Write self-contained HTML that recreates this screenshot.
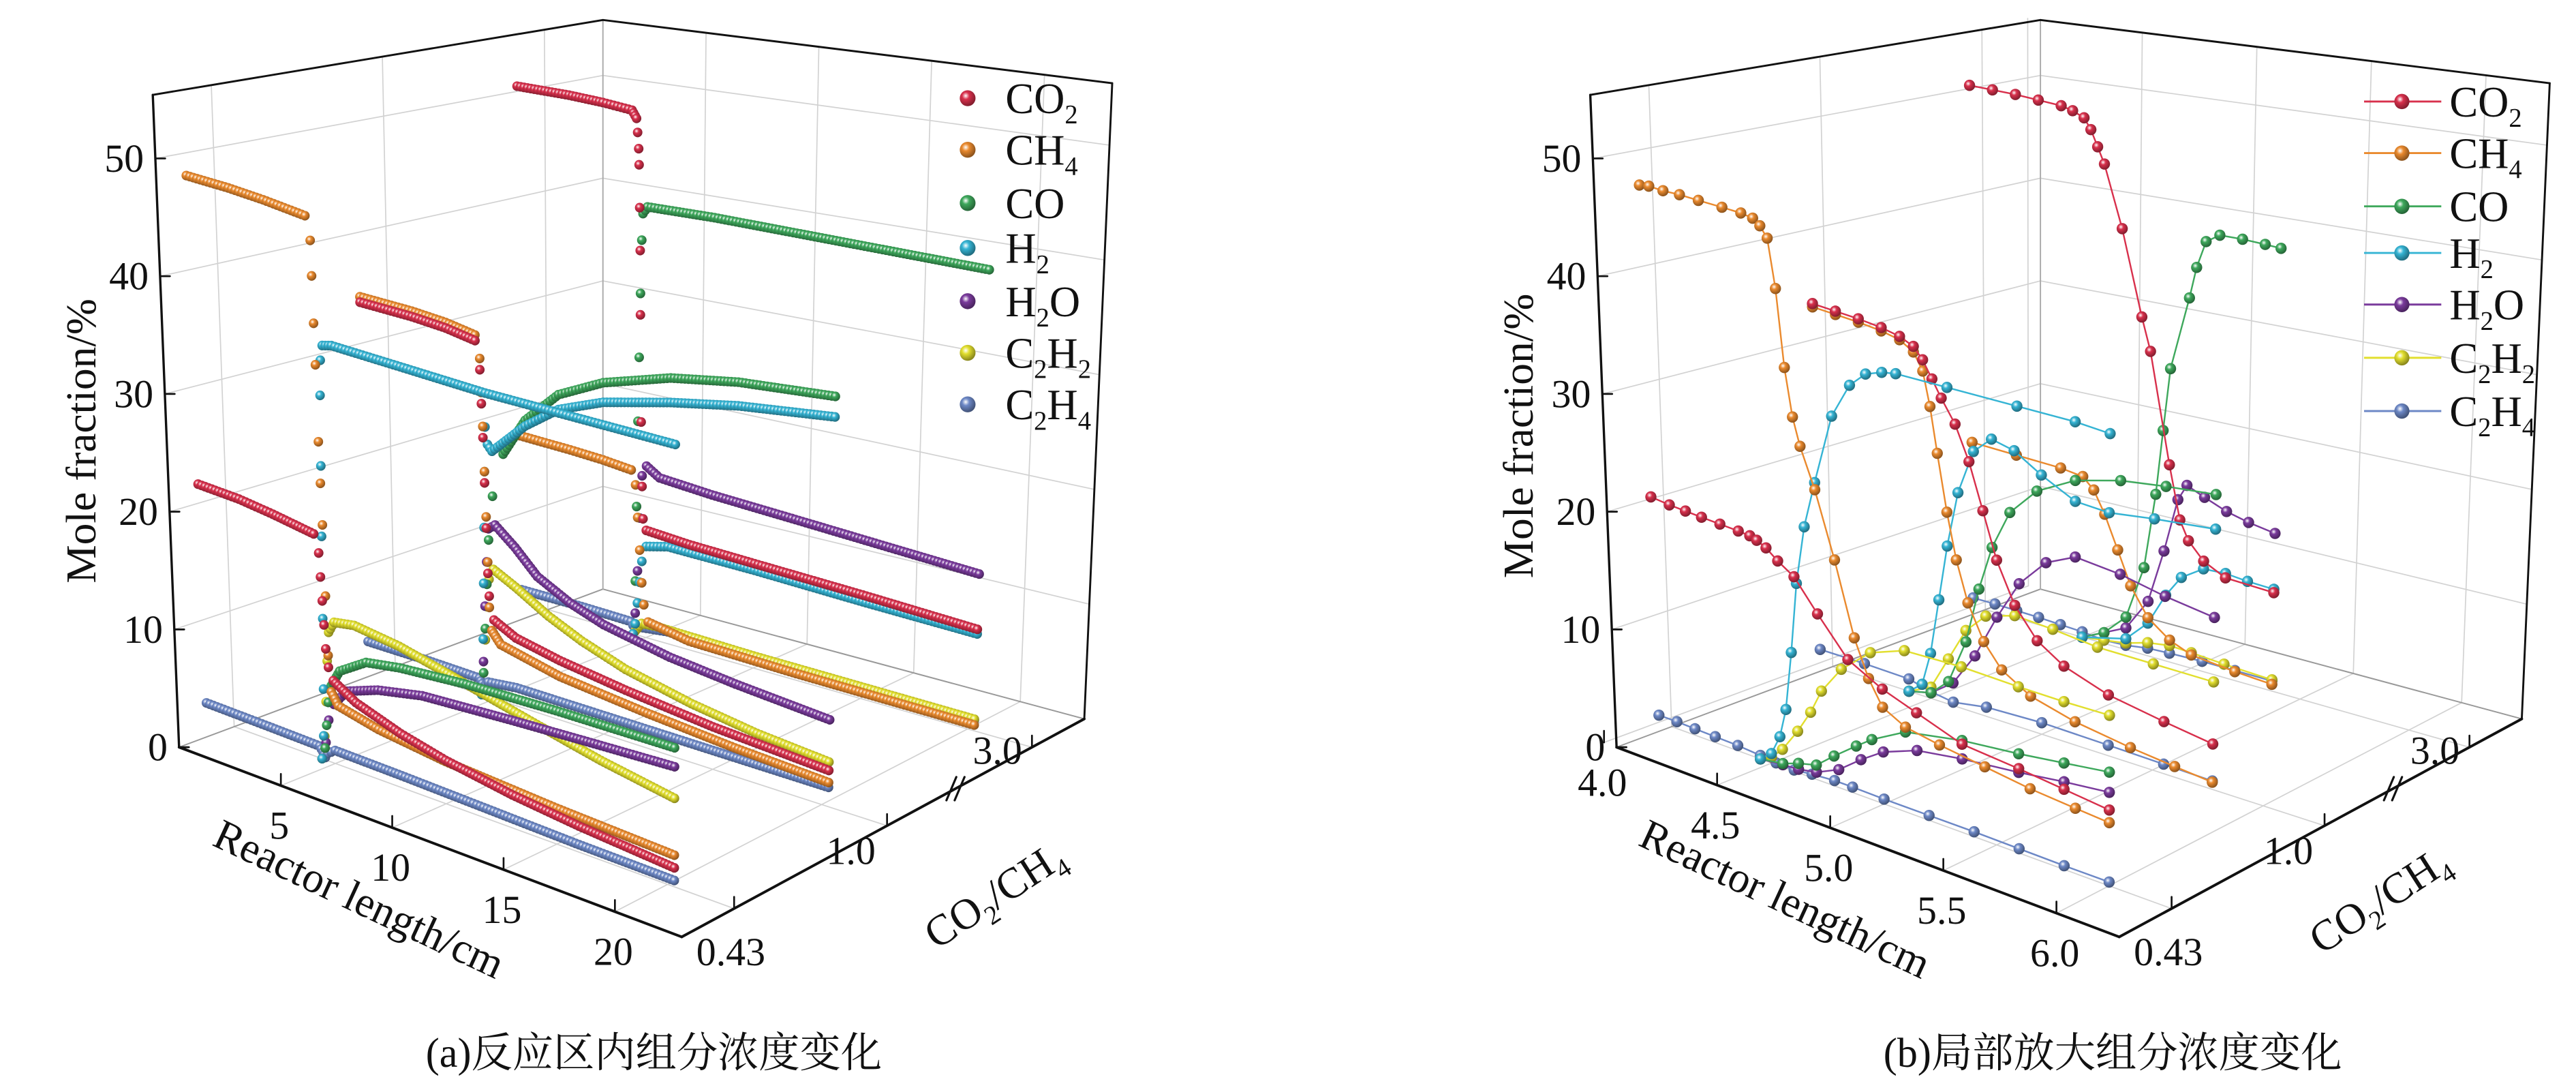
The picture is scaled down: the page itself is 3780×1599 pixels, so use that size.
<!DOCTYPE html>
<html><head><meta charset="utf-8"><title>Mole fraction 3D charts</title>
<style>
html,body{margin:0;padding:0;background:#fff;}
svg{display:block;}
text{font-family:"Liberation Serif","Noto Serif CJK SC",serif;fill:#111;}
</style></head>
<body>
<svg id="fig" xmlns="http://www.w3.org/2000/svg" width="3780" height="1599" viewBox="0 0 1568 655" preserveAspectRatio="none">
<defs id="defs"></defs>
<g id="panelA"></g>
<g id="panelB"></g>

<!-- titles -->
<text transform="translate(58,265) rotate(-90)" text-anchor="middle" font-size="26">Mole fraction/%</text>
<text transform="translate(933,262) rotate(-90)" text-anchor="middle" font-size="26">Mole fraction/%</text>
<text transform="translate(215,548) rotate(25)" text-anchor="middle" font-size="26">Reactor length/cm</text>
<text transform="translate(1083,548) rotate(25)" text-anchor="middle" font-size="26">Reactor length/cm</text>
<text transform="translate(610,545) rotate(-33)" text-anchor="middle" font-size="26">CO<tspan dy="6" font-size="16">2</tspan><tspan dy="-6">/CH</tspan><tspan dy="6" font-size="16">4</tspan></text>
<text transform="translate(1453,548) rotate(-33)" text-anchor="middle" font-size="26">CO<tspan dy="6" font-size="16">2</tspan><tspan dy="-6">/CH</tspan><tspan dy="6" font-size="16">4</tspan></text>
<text x="398" y="641" text-anchor="middle" font-size="25">(a)反应区内组分浓度变化</text>
<text x="1286" y="641" text-anchor="middle" font-size="25">(b)局部放大组分浓度变化</text>

<!-- legends -->
<g id="legendA" font-size="26">
 <text x="612" y="68">CO<tspan dy="6" font-size="16">2</tspan></text>
 <text x="612" y="99">CH<tspan dy="6" font-size="16">4</tspan></text>
 <text x="612" y="131">CO</text>
 <text x="612" y="158">H<tspan dy="6" font-size="16">2</tspan></text>
 <text x="612" y="190">H<tspan dy="6" font-size="16">2</tspan><tspan dy="-6">O</tspan></text>
 <text x="612" y="221">C<tspan dy="6" font-size="16">2</tspan><tspan dy="-6">H</tspan><tspan dy="6" font-size="16">2</tspan></text>
 <text x="612" y="252">C<tspan dy="6" font-size="16">2</tspan><tspan dy="-6">H</tspan><tspan dy="6" font-size="16">4</tspan></text>
</g>
<g id="legendB" font-size="26">
 <text x="1491" y="70">CO<tspan dy="6" font-size="16">2</tspan></text>
 <text x="1491" y="101">CH<tspan dy="6" font-size="16">4</tspan></text>
 <text x="1491" y="133">CO</text>
 <text x="1491" y="161">H<tspan dy="6" font-size="16">2</tspan></text>
 <text x="1491" y="192">H<tspan dy="6" font-size="16">2</tspan><tspan dy="-6">O</tspan></text>
 <text x="1491" y="224">C<tspan dy="6" font-size="16">2</tspan><tspan dy="-6">H</tspan><tspan dy="6" font-size="16">2</tspan></text>
 <text x="1491" y="256">C<tspan dy="6" font-size="16">2</tspan><tspan dy="-6">H</tspan><tspan dy="6" font-size="16">4</tspan></text>
</g>
</svg>

<script>
// ===== shared axis data =====
const speciesKeys = ['CO2','CH4','CO','H2','H2O','C2H2','C2H4'];
const rowLabels = ['0.43','1.0','3.0'];
const yTicks = [0,10,20,30,40,50];
const aXTicks = [5,10,15,20];
const aXTickLabels = ['5','10','15','20'];
const bXTicks = [4.0,4.5,5.0,5.5,6.0];
const bXTickLabels = ['4.0','4.5','5.0','5.5','6.0'];

// ===== panel (a) series: [reactor length cm, mole fraction %] =====
// row CO2/CH4 = 0.43
const aF_CO2 = [[-0.8,20.2],[1,20],[2.5,19.6],[4.3,19],[4.5,17.5],[4.55,15.5],[4.6,13.5],[4.65,11.5],[4.7,9.5],[4.8,8],[5,7],[6,5.8],[8,4.5],[10,3.6],[13,2.7],[16,2.1],[20.3,1.5]];
const aF_CH4 = [[-0.8,47],[1,46.8],[2.5,46.5],[4.3,46],[4.5,44],[4.52,41],[4.55,37],[4.58,33.5],[4.62,27],[4.66,23.5],[4.7,20],[4.75,14],[4.8,9],[4.9,6],[5.2,5],[7,4.2],[10,3.5],[15,2.9],[20.3,2.5]];
const aF_CO = [[4.4,0],[4.55,1],[4.65,3],[4.75,5],[4.9,6.5],[5.3,8],[6.5,9.5],[8,10],[11,10.5],[15,10.8],[20.3,11]];
const aF_H2 = [[4.4,0],[4.5,2],[4.55,6],[4.6,12],[4.65,19],[4.7,25],[4.75,31],[4.8,34],[4.9,35.3],[5.3,35.5],[8,35.3],[12,35],[16,35],[20.3,35]];
const aF_H2O = [[4.4,0],[4.6,1.5],[4.75,3.5],[5,5],[5.6,6.5],[7,7.5],[9,8.3],[13,8.8],[17,9.2],[20.3,9.5]];
const aF_C2H2 = [[4.4,0],[4.55,2],[4.65,5],[4.75,8.5],[4.85,11],[5.1,12],[6,12.3],[8,11.8],[11,10.5],[14,9.2],[17,8],[20.3,7]];
const aF_C2H4 = [[-0.8,1.2],[2,1.1],[4.3,1.0],[4.45,0.6],[4.55,0.2],[4.65,0.6],[5,1.1],[8,1.0],[12,0.8],[16,0.6],[20.3,0.5]];
// row CO2/CH4 = 1.0
const aM_CO2 = [[-0.8,32.5],[1.5,32.3],[3,32],[4.3,31.5],[4.5,29],[4.55,26],[4.6,23],[4.65,19],[4.7,15],[4.75,11],[4.8,9],[5,7],[6,6],[8,5.2],[11,4.4],[15,3.6],[20.3,3]];
const aM_CH4 = [[-0.8,33],[1.5,32.8],[3,32.5],[4.3,32],[4.5,30],[4.55,27],[4.6,24],[4.65,20],[4.7,16],[4.75,12],[4.8,8],[4.9,6],[5.3,5],[8,3.8],[12,3],[16,2.4],[20.3,2]];
const aM_CO = [[4.4,0],[4.5,2],[4.6,6],[4.7,10],[4.8,14],[5,18],[5.5,22],[6.5,25.5],[8,28.5],[10,30.5],[13,32.3],[16,33.3],[20.3,34]];
const aM_H2 = [[4.4,0],[4.5,5],[4.55,10],[4.6,15],[4.65,20],[4.7,24],[4.8,22.5],[5,22],[5.5,23],[6.5,25],[8,27.2],[10,28.8],[13,30.2],[16,31.3],[20.3,32.3]];
const aM_H2O = [[4.4,0],[4.5,3],[4.6,8],[4.7,12],[4.8,15],[5.1,15.5],[6,14],[7,12],[8.5,10.5],[10,9.5],[13,8.4],[16,7.8],[20.3,7.2]];
const aM_C2H2 = [[4.4,0],[4.5,2],[4.6,5],[4.7,8],[4.8,10.5],[5,11.5],[6,10.5],[7.5,8.8],[9,7.5],[11,6.2],[14,5],[17,4.2],[20.3,3.7]];
const aM_C2H4 = [[-0.8,1.5],[2,1.5],[4.3,1.4],[4.5,0.8],[4.7,1.3],[6,1.6],[10,1.6],[15,1.6],[20.3,1.6]];
// row CO2/CH4 = 3.0
const aK_CO2 = [[-0.8,49.6],[1.5,49.5],[3,49.3],[4.3,49],[4.5,48.3],[4.55,47],[4.6,45.5],[4.62,44],[4.65,40],[4.68,36],[4.7,30],[4.75,20],[4.8,14],[4.85,11],[5,10],[7,9.7],[10,9.5],[15,9.2],[20.3,8.8]];
const aK_CH4 = [[-0.8,16],[1.5,15.8],[3,15.6],[4.3,15.3],[4.5,14],[4.6,11],[4.7,8],[4.8,5],[4.9,3],[5.1,1.5],[7,0.8],[12,0.6],[20.3,0.5]];
const aK_CO = [[4.4,0],[4.5,5],[4.55,12],[4.6,20],[4.65,26],[4.7,32],[4.75,37],[4.8,39.5],[5,40.2],[8,40.3],[12,40.2],[16,40.1],[20.3,40]];
const aK_H2 = [[4.4,0],[4.5,1],[4.6,3],[4.7,5],[4.8,7],[5,8.5],[6,9],[10,8.9],[15,8.6],[20.3,8.4]];
const aK_H2O = [[4.4,0],[4.5,2],[4.6,6],[4.7,11],[4.8,15],[5,16],[5.6,15.2],[8,14.8],[12,14.4],[16,14],[20.3,13.6]];
const aK_C2H2 = [[4.4,0],[4.6,0.6],[4.8,1.2],[5.5,1.3],[10,1.1],[20.3,1.0]];
const aK_C2H4 = [[-0.8,1.2],[2,1.2],[4.3,1.1],[4.5,0.5],[4.7,0.8],[6,1.1],[12,1.0],[20.3,0.9]];

// ===== panel (b) series =====
const bF_CO2 = [[4.0,19.5],[4.08,19.3],[4.15,19.2],[4.22,19.1],[4.3,19],[4.38,18.9],[4.43,18.8],[4.46,18.6],[4.5,18.2],[4.55,17.4],[4.62,16.5],[4.72,14],[4.85,11],[5.0,9.5],[5.15,8.5],[5.35,7.2],[5.6,6.8],[5.8,6.4],[6.0,6]];
const bF_CH4 = [[4.0,46.5],[4.04,46.6],[4.1,46.5],[4.17,46.5],[4.25,46.4],[4.35,46.3],[4.43,46.2],[4.48,46],[4.51,45.5],[4.54,44.6],[4.57,40.5],[4.6,34],[4.63,30],[4.66,27.7],[4.72,24.4],[4.8,19],[4.88,13],[4.94,10],[5.0,8],[5.1,7],[5.25,6.5],[5.45,6],[5.65,5.5],[5.85,5.2],[6.0,5]];
const bF_CO = [[4.45,0],[4.55,0.3],[4.62,0.8],[4.7,1.2],[4.78,2.5],[4.88,4],[4.95,5],[5.1,6.6],[5.35,7.5],[5.6,8],[5.8,8.5],[6.0,9]];
const bF_H2 = [[4.45,0],[4.5,0.8],[4.54,2.5],[4.57,5],[4.6,10],[4.63,16],[4.67,21],[4.72,25],[4.8,31],[4.88,34],[4.95,35.3],[5.02,35.8],[5.08,36],[5.3,36],[5.6,36],[5.85,36],[6.0,35.8]];
const bF_H2O = [[4.45,0],[4.55,0.2],[4.62,0.3],[4.7,0.6],[4.8,1.5],[4.9,3],[5.0,4.3],[5.15,5.4],[5.35,6],[5.6,6.5],[5.8,7],[6.0,7.4]];
const bF_C2H2 = [[4.45,0],[4.5,0.5],[4.55,1.5],[4.62,3.5],[4.68,5.5],[4.73,7.6],[4.82,10],[4.95,12.2],[5.1,13.3],[5.35,13.5],[5.6,13.4],[5.8,13.4],[6.0,13.5]];
const bF_C2H4 = [[4.0,0.6],[4.08,0.6],[4.16,0.55],[4.25,0.5],[4.35,0.45],[4.45,0.3],[4.52,0.15],[4.6,0.1],[4.68,0.3],[4.78,0.45],[4.86,0.45],[5.0,0.4],[5.2,0.4],[5.4,0.4],[5.6,0.35],[5.8,0.3],[6.0,0.3]];

const bM_CO2 = [[4.0,32.7],[4.1,32.5],[4.2,32.3],[4.3,32],[4.38,31.6],[4.44,31],[4.48,30],[4.52,28.5],[4.56,27],[4.62,25],[4.68,22],[4.74,18],[4.8,14],[4.88,10.5],[4.98,8],[5.1,6.5],[5.3,5.2],[5.55,4.4],[5.77,3.8]];
const bM_CH4 = [[4.0,32.4],[4.1,32.2],[4.2,32],[4.3,31.7],[4.38,31.3],[4.44,30.5],[4.48,29],[4.51,26],[4.54,22],[4.58,17],[4.62,13],[4.67,9.5],[4.74,6.5],[4.82,4.5],[4.95,3],[5.15,2],[5.4,1.3],[5.6,0.9],[5.77,0.6]];
const bM_CO = [[4.4,0],[4.5,0.5],[4.58,2],[4.66,6],[4.72,11],[4.78,15],[4.86,18.5],[4.98,21],[5.15,22.8],[5.35,23.8],[5.55,24.3],[5.77,24.7]];
const bM_H2 = [[4.4,0],[4.46,1],[4.5,4],[4.54,9],[4.58,14],[4.63,19],[4.7,23],[4.78,24.5],[4.88,24],[5.0,22.5],[5.15,21],[5.3,20.8],[5.5,21.3],[5.77,21.8]];
const bM_H2O = [[4.4,0],[4.5,0.5],[4.6,2],[4.7,5],[4.8,9],[4.9,12.5],[5.02,15],[5.15,16.2],[5.35,15.8],[5.55,15],[5.77,14.4]];
const bM_C2H2 = [[4.4,0],[4.5,1],[4.58,4],[4.66,7],[4.75,8.8],[4.88,9.6],[5.05,9.4],[5.25,9],[5.5,9],[5.77,9]];
const bM_C2H4 = [[4.0,1.2],[4.2,1.2],[4.4,1.1],[4.5,0.6],[4.6,0.3],[4.75,0.8],[5.0,1.0],[5.3,0.9],[5.55,0.8],[5.77,0.7]];

const bK_CO2 = [[4.0,49.9],[4.1,49.8],[4.2,49.7],[4.3,49.5],[4.4,49.3],[4.45,49],[4.5,48.5],[4.53,47.5],[4.56,46],[4.59,44.5],[4.67,38.8],[4.76,31],[4.8,28],[4.89,18],[4.94,13.2],[4.98,11.5],[5.05,10],[5.15,9],[5.37,8.8]];
const bK_CH4 = [[4.0,15.7],[4.2,15.5],[4.4,15.3],[4.5,15],[4.55,14],[4.6,12],[4.66,9],[4.72,6],[4.8,3.5],[4.9,2],[5.0,1.2],[5.2,0.8],[5.37,0.6]];
const bK_CO = [[4.5,0],[4.6,1],[4.7,3],[4.78,8],[4.83,15],[4.86,21],[4.89,26.8],[4.97,33.6],[5.0,36.5],[5.04,39],[5.1,39.8],[5.2,39.8],[5.3,39.7],[5.37,39.6]];
const bK_H2 = [[4.5,0],[4.7,1],[4.8,3],[4.88,6],[4.95,8],[5.05,9.3],[5.15,9.4],[5.25,9.2],[5.37,9.1]];
const bK_H2O = [[4.5,0],[4.7,2],[4.8,5],[4.87,10],[4.93,15],[4.97,16.5],[5.05,15.8],[5.15,15],[5.25,14.5],[5.37,14.1]];
const bK_C2H2 = [[4.5,0],[4.6,0.3],[4.7,0.6],[4.8,1.2],[4.9,1.5],[5.0,1.4],[5.15,1.2],[5.37,1.0]];
const bK_C2H4 = [[4.0,0.8],[4.1,0.8],[4.2,0.75],[4.3,0.7],[4.4,0.6],[4.5,0.5],[4.6,0.3],[4.7,0.4],[4.8,0.7],[4.9,0.8],[5.05,0.9],[5.2,0.9],[5.37,0.9]];

// ===== styling / geometry (not data) =====
const COLORS = {CO2:'#d8304c',CH4:'#ea8a2e',CO:'#3ea85c',H2:'#35b4d4',H2O:'#7a3b9c',C2H2:'#e2df2e',C2H4:'#6d88c6'};
const ROW_W = [0.13,0.51,0.87];
const VMAX = 55.4;
const NS = 'http://www.w3.org/2000/svg';

function geom(off, xToU){
  return {A:[109+off,449],B:[415+off,563],C:[660+off,432],D:[367+off,354],
          vA:[-16,-392],vB:[1,-432],vC:[17,-382],vD:[0,-342], xToU:xToU};
}
const gA = geom(0, x => -0.019 + 0.0443*x);
const gB = geom(875, x => -0.025 + 0.45*(x-4));

function P(g,u,w,v){
  const bl=(a,b,c,d,i)=>(1-w)*(1-u)*a[i]+(1-w)*u*b[i]+w*u*c[i]+w*(1-u)*d[i];
  return [bl(g.A,g.B,g.C,g.D,0)+bl(g.vA,g.vB,g.vC,g.vD,0)*v/VMAX,
          bl(g.A,g.B,g.C,g.D,1)+bl(g.vA,g.vB,g.vC,g.vD,1)*v/VMAX];
}
function el(tag, attrs, parent){
  const e=document.createElementNS(NS,tag);
  for(const k in attrs) e.setAttribute(k,attrs[k]);
  parent.appendChild(e);
  return e;
}
const defs=document.getElementById('defs');
function shade(hex,f){const n=parseInt(hex.slice(1),16);let r=n>>16,g=(n>>8)&255,b=n&255;
  r=Math.round(r*f);g=Math.round(g*f);b=Math.round(b*f);return 'rgb('+r+','+g+','+b+')';}
speciesKeys.forEach(k=>{
  const rg=el('radialGradient',{id:'bg-'+k,cx:'0.38',cy:'0.35',r:'0.65'},defs);
  el('stop',{offset:'0','stop-color':'#ffffff'},rg);
  el('stop',{offset:'0.35','stop-color':COLORS[k]},rg);
  el('stop',{offset:'1','stop-color':shade(COLORS[k],0.6)},rg);
});

function line(parent,p,q,stroke,sw,name){
  const l=el('line',{x1:p[0],y1:p[1],x2:q[0],y2:q[1],stroke:stroke,'stroke-width':sw,'stroke-linecap':'round'},parent);
  
  
  return l;
}

function drawAxes(g, parent, xTicks, xLabels, prefix){
  const grid='#d2d2d2', ax='#111';
  const xu=xTicks.map(t=>g.xToU(t));
  xu.forEach(u=>line(parent,P(g,u,0,0),P(g,u,1,0),grid,0.7,prefix+'-floor-gridline'));
  ROW_W.forEach(w=>line(parent,P(g,0,w,0),P(g,1,w,0),grid,0.7,prefix+'-floor-gridline'));
  yTicks.slice(1).forEach(v=>{
    line(parent,P(g,0,0,v),P(g,0,1,v),grid,0.7,prefix+'-wall-gridline');
    line(parent,P(g,0,1,v),P(g,1,1,v),grid,0.7,prefix+'-wall-gridline');
  });
  ROW_W.forEach(w=>line(parent,P(g,0,w,0),P(g,0,w,VMAX),grid,0.7,prefix+'-wall-gridline'));
  xu.forEach(u=>line(parent,P(g,u,1,0),P(g,u,1,VMAX),grid,0.7,prefix+'-wall-gridline'));
  line(parent,P(g,0,0,0),P(g,0,1,0),'#999',0.8,prefix+'-floor-edge');
  line(parent,P(g,0,1,0),P(g,1,1,0),'#999',0.8,prefix+'-floor-edge');
  line(parent,P(g,0,1,0),P(g,0,1,VMAX),'#aaa',0.8,prefix+'-back-edge');
  line(parent,P(g,0,0,0),P(g,0,0,VMAX),ax,1.4,prefix+'-y-axis-line');
  line(parent,P(g,0,0,VMAX),P(g,0,1,VMAX),ax,1.2,prefix+'-top-edge');
  line(parent,P(g,0,1,VMAX),P(g,1,1,VMAX),ax,1.2,prefix+'-top-edge');
  line(parent,P(g,1,1,0),P(g,1,1,VMAX),ax,1.2,prefix+'-right-edge');
  line(parent,P(g,0,0,0),P(g,1,0,0),ax,1.6,prefix+'-x-axis-line');
  line(parent,P(g,1,0,0),P(g,1,1,0),ax,1.6,prefix+'-depth-axis-line');
  yTicks.forEach(v=>{
    const p=P(g,0,0,v);
    line(parent,p,[p[0]+6,p[1]],ax,1.1,prefix+'-y-tick');
    const t=el('text',{x:p[0]-7,y:p[1]+8,'text-anchor':'end','font-size':24},parent);
    t.textContent=String(v);
    
    
  });
  xTicks.forEach((xv,i)=>{
    const p=P(g,g.xToU(xv),0,0);
    line(parent,p,[p[0],p[1]-7],ax,1.1,prefix+'-x-tick');
    const t=el('text',{x:p[0]-1,y:p[1]+32,'text-anchor':'middle','font-size':24},parent);
    t.textContent=xLabels[i];
    
    
  });
  const offs=[[-2,34],[-22,23],[-21,10]];
  ROW_W.forEach((w,i)=>{
    const p=P(g,1,w,0);
    line(parent,p,[p[0],p[1]-7],ax,1.1,prefix+'-depth-tick');
    const t=el('text',{x:p[0]+offs[i][0],y:p[1]+offs[i][1],'text-anchor':'middle','font-size':24},parent);
    t.textContent=rowLabels[i];
    
    
  });
  const bp=P(g,1,0.68,0);
  [-2.5,2.5].forEach(d=>{
    line(parent,[bp[0]+d-3,bp[1]+7],[bp[0]+d+3,bp[1]-7],ax,1.3,prefix+'-axis-break');
  });
}

function drawBeads(g,parent,w,data,key){
  const pts=data.map(d=>P(g,g.xToU(d[0]),w,d[1]));
  const grp=el('g',{},parent);
  
  
  const put=(p)=>{
    const c=el('circle',{cx:p[0].toFixed(2),cy:p[1].toFixed(2),r:2.9,fill:'url(#bg-'+key+')'},grp);
    
    
  };
  put(pts[0]);
  for(let i=1;i<pts.length;i++){
    const p=pts[i-1],q=pts[i];
    const dx=q[0]-p[0],dy=q[1]-p[1],len=Math.hypot(dx,dy);
    if(Math.abs(dy)>2*Math.abs(dx) && len>5){ put(q); continue; }
    const n=Math.max(1,Math.round(len/2.2));
    for(let k=1;k<=n;k++) put([p[0]+dx*k/n,p[1]+dy*k/n]);
  }
}
function drawLineMarkers(g,parent,w,data,key){
  const pts=data.map(d=>P(g,g.xToU(d[0]),w,d[1]));
  const grp=el('g',{},parent);
  
  
  const pl=el('polyline',{points:pts.map(p=>p[0].toFixed(2)+','+p[1].toFixed(2)).join(' '),fill:'none',stroke:COLORS[key],'stroke-width':1},grp);
  
  
  pts.forEach(p=>{
    const c=el('circle',{cx:p[0].toFixed(2),cy:p[1].toFixed(2),r:3.4,fill:'url(#bg-'+key+')'},grp);
    
    
  });
}

const aRows=[
  {CO2:aF_CO2,CH4:aF_CH4,CO:aF_CO,H2:aF_H2,H2O:aF_H2O,C2H2:aF_C2H2,C2H4:aF_C2H4},
  {CO2:aM_CO2,CH4:aM_CH4,CO:aM_CO,H2:aM_H2,H2O:aM_H2O,C2H2:aM_C2H2,C2H4:aM_C2H4},
  {CO2:aK_CO2,CH4:aK_CH4,CO:aK_CO,H2:aK_H2,H2O:aK_H2O,C2H2:aK_C2H2,C2H4:aK_C2H4}];
const bRows=[
  {CO2:bF_CO2,CH4:bF_CH4,CO:bF_CO,H2:bF_H2,H2O:bF_H2O,C2H2:bF_C2H2,C2H4:bF_C2H4},
  {CO2:bM_CO2,CH4:bM_CH4,CO:bM_CO,H2:bM_H2,H2O:bM_H2O,C2H2:bM_C2H2,C2H4:bM_C2H4},
  {CO2:bK_CO2,CH4:bK_CH4,CO:bK_CO,H2:bK_H2,H2O:bK_H2O,C2H2:bK_C2H2,C2H4:bK_C2H4}];

const pa=document.getElementById('panelA'), pb=document.getElementById('panelB');
drawAxes(gA,pa,aXTicks,aXTickLabels,'panel-a');
drawAxes(gB,pb,bXTicks,bXTickLabels,'panel-b');
const drawOrder=['C2H4','C2H2','H2O','CO','H2','CH4','CO2'];
[2,1,0].forEach(r=>{
  drawOrder.forEach(k=>drawBeads(gA,pa,ROW_W[r],aRows[r][k],k));
  drawOrder.forEach(k=>drawLineMarkers(gB,pb,ROW_W[r],bRows[r][k],k));
});

const legY=[59,90,122,149,181,212,243];
const legYb=[61,92,124,152,183,215,247];
const la=document.getElementById('legendA'), lb=document.getElementById('legendB');
speciesKeys.forEach((k,i)=>{
  const c=el('circle',{cx:589,cy:legY[i],r:4.8,fill:'url(#bg-'+k+')'},la);
  
  
  const l=el('line',{x1:1439,y1:legYb[i],x2:1486,y2:legYb[i],stroke:COLORS[k],'stroke-width':1.2},lb);
  
  
  const c2=el('circle',{cx:1462,cy:legYb[i],r:4.6,fill:'url(#bg-'+k+')'},lb);
  
  
});
</script>
</body></html>
